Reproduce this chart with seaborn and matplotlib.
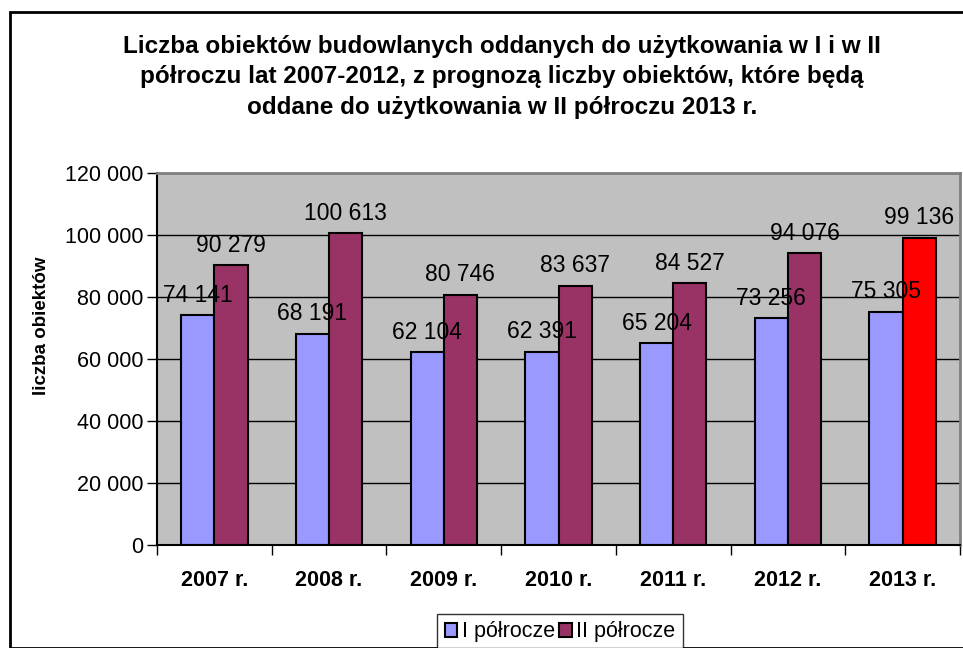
import pandas as pd
import numpy as np
import matplotlib
matplotlib.use("Agg")
import matplotlib.pyplot as plt
from matplotlib.patches import Rectangle
from matplotlib.ticker import FuncFormatter, FixedLocator
import seaborn as sns

years = ["2007 r.", "2008 r.", "2009 r.", "2010 r.", "2011 r.", "2012 r.", "2013 r."]
first_half = [74141, 68191, 62104, 62391, 65204, 73256, 75305]
second_half = [90279, 100613, 80746, 83637, 84527, 94076, 99136]
series_names = ["I półrocze", "II półrocze"]

df = pd.DataFrame({
    "rok": years * 2,
    "liczba": first_half + second_half,
    "półrocze": [series_names[0]] * len(years) + [series_names[1]] * len(years),
})

sns.set_theme(style="white")
plt.rcParams["font.family"] = ["Liberation Sans", "DejaVu Sans"]
plt.rcParams["text.color"] = "black"
plt.rcParams["axes.labelcolor"] = "black"
plt.rcParams["xtick.color"] = "black"
plt.rcParams["ytick.color"] = "black"

fig = plt.figure(figsize=(9.63, 6.48), dpi=100)
ax = fig.add_axes([157 / 963, 103 / 648, 803 / 963, 372 / 648])

colors = ["#9999FF", "#993366"]
sns.barplot(data=df, x="rok", y="liczba", hue="półrocze", palette=colors, saturation=1,
            width=0.58, edgecolor="black", linewidth=1.5, ax=ax, legend=True)

# forecast bar in red
bars_second = ax.containers[1]
bars_second[-1].set_facecolor("#FF0000")

for cont in ax.containers:
    for bar in cont:
        h = bar.get_height()
        ax.annotate(f"{int(h):,}".replace(",", " "),
                    (bar.get_x() + bar.get_width() / 2, h),
                    xytext=(0, 6), textcoords="offset points",
                    ha="center", va="bottom", fontsize=16.5, color="black")

ax.set_facecolor("#C0C0C0")
ax.set_ylim(0, 120000)
ax.set_xlim(-0.5, len(years) - 0.5)
ax.set_yticks(np.arange(0, 120001, 20000))
ax.yaxis.set_major_formatter(FuncFormatter(lambda v, p: f"{int(v):,}".replace(",", " ")))
ax.grid(axis="y", color="black", linewidth=1)
ax.set_axisbelow(True)

ax.tick_params(axis="y", which="major", length=7, width=1, color="black",
               labelsize=15.5, left=True, pad=3)
ax.tick_params(axis="x", which="major", length=0, labelsize=15.5, pad=18)
ax.xaxis.set_minor_locator(FixedLocator(np.arange(-0.5, len(years), 1)))
ax.tick_params(axis="x", which="minor", length=7, width=1, color="black", bottom=True)
for lbl in ax.get_xticklabels():
    lbl.set_fontweight("bold")

ax.set_xlabel("")
ax.set_ylabel("liczba obiektów", fontsize=13.5, fontweight="bold")
ax.yaxis.set_label_coords(-0.133, 0.59)

for side in ["top", "right"]:
    ax.spines[side].set_color("#808080")
    ax.spines[side].set_linewidth(2)
for side in ["left", "bottom"]:
    ax.spines[side].set_color("black")
    ax.spines[side].set_linewidth(1.5)

handles, labels = ax.get_legend_handles_labels()
ax.legend_.remove()
leg = fig.legend(handles, labels, loc="center", bbox_to_anchor=(560 / 963, 1 - 632 / 648),
                 ncol=2, fontsize=15.5, frameon=True, fancybox=False, edgecolor="black",
                 handlelength=0.6, handleheight=0.6, handletextpad=0.2, columnspacing=0.2,
                 borderpad=0.35)
leg.get_frame().set_linewidth(1)

fig.text(502 / 963, 1 - 77 / 648,
         "Liczba obiektów budowlanych oddanych do użytkowania w I i w II\n"
         "półroczu lat 2007-2012, z prognozą liczby obiektów, które będą\n"
         "oddane do użytkowania w II półroczu 2013 r.",
         ha="center", va="center", fontsize=17.5, fontweight="bold", linespacing=1.42)

# outer chart frame
fig.patches.append(Rectangle((10 / 963, 0), 1.0, 1 - 12 / 648, transform=fig.transFigure,
                             fill=False, edgecolor="black", linewidth=2, zorder=0))

fig.savefig("out.png", dpi=100)
